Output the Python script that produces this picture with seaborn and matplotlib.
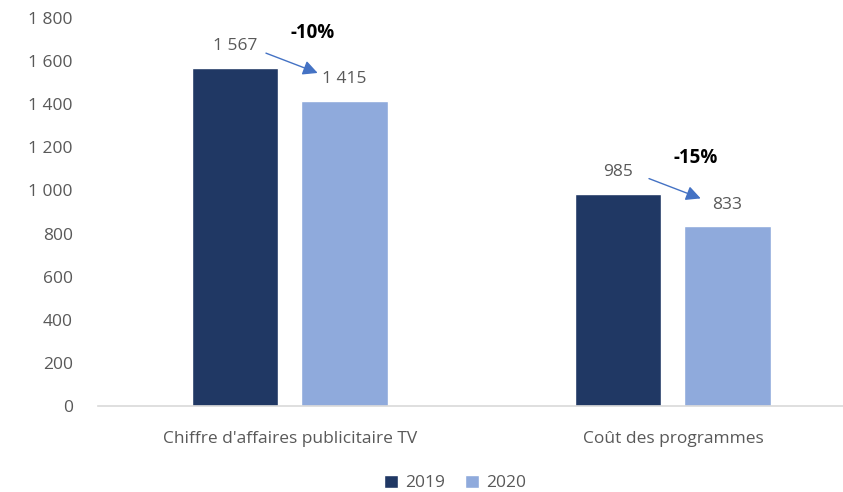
import matplotlib

matplotlib.use("Agg")
import matplotlib.pyplot as plt
import pandas as pd
import seaborn as sns

CATEGORIES = ["Chiffre d'affaires publicitaire TV", "Coût des programmes"]
YEARS = ["2019", "2020"]
VALUES_2019 = [1567, 985]
VALUES_2020 = [1415, 833]
COLORS = {"2019": "#203864", "2020": "#8FAADC"}
TEXT_GREY = "#595959"


def fmt(v):
    # French style thousands separator
    return f"{v:,.0f}".replace(",", " ")


df = pd.DataFrame(
    {
        "categorie": CATEGORIES * 2,
        "annee": [YEARS[0]] * 2 + [YEARS[1]] * 2,
        "valeur": VALUES_2019 + VALUES_2020,
    }
)

sns.set_theme(style="white")
plt.rcParams["font.family"] = ["Open Sans", "DejaVu Sans"]

fig = plt.figure(figsize=(8.43, 4.92), dpi=100)
ax = fig.add_axes([98 / 843, 86 / 492, 745 / 843, 388 / 492])

sns.barplot(
    data=df,
    x="categorie",
    y="valeur",
    hue="annee",
    order=CATEGORIES,
    hue_order=YEARS,
    palette=COLORS,
    width=0.57,
    gap=0.21,
    saturation=1,
    ax=ax,
)

ax.set_xlim(-0.501, 1.444)
ax.set_ylim(0, 1800)
ax.set_yticks(range(0, 1801, 200))
ax.set_yticklabels([fmt(t) for t in range(0, 1801, 200)])
ax.set_xlabel("")
ax.set_ylabel("")
ax.tick_params(axis="both", colors=TEXT_GREY, labelsize=12.5, length=0)
ax.tick_params(axis="y", pad=18)
ax.tick_params(axis="x", pad=18)
for side in ["top", "right", "left"]:
    ax.spines[side].set_visible(False)
ax.spines["bottom"].set_color("#d9d9d9")
ax.spines["bottom"].set_linewidth(1.2)

# value labels above bars
bars_2019 = ax.containers[0]
bars_2020 = ax.containers[1]
for cont in (bars_2019, bars_2020):
    ax.bar_label(cont, labels=[fmt(b.get_height()) for b in cont],
                 padding=10, color=TEXT_GREY, fontsize=12.5)

# evolution arrows + percentage
for b0, b1 in zip(bars_2019, bars_2020):
    v0, v1 = b0.get_height(), b1.get_height()
    x0 = b0.get_x() + b0.get_width() / 2
    x1 = b1.get_x() + b1.get_width() / 2
    ax.annotate(
        "",
        xy=(x1 - 0.07, v1 + 130),
        xytext=(x0 + 0.08, v0 + 70),
        arrowprops=dict(arrowstyle="-|>", color="#4472C4", lw=1.0,
                        mutation_scale=22, shrinkA=0, shrinkB=0),
    )
    pct = round((v1 / v0 - 1) * 100)
    ax.text((x0 + x1) / 2 + 0.06, v0 + 165, f"{pct}%", ha="center", va="center",
            fontsize=13.5, fontweight="bold", color="black")

ax.legend(
    handles=ax.get_legend_handles_labels()[0],
    labels=YEARS,
    loc="center",
    bbox_to_anchor=(455 / 843, 9 / 492),
    bbox_transform=fig.transFigure,
    ncol=2,
    frameon=False,
    fontsize=12.5,
    labelcolor=TEXT_GREY,
    handlelength=0.8,
    handleheight=0.8,
    handletextpad=0.4,
    columnspacing=1.2,
)

fig.savefig("out.png", dpi=100)
